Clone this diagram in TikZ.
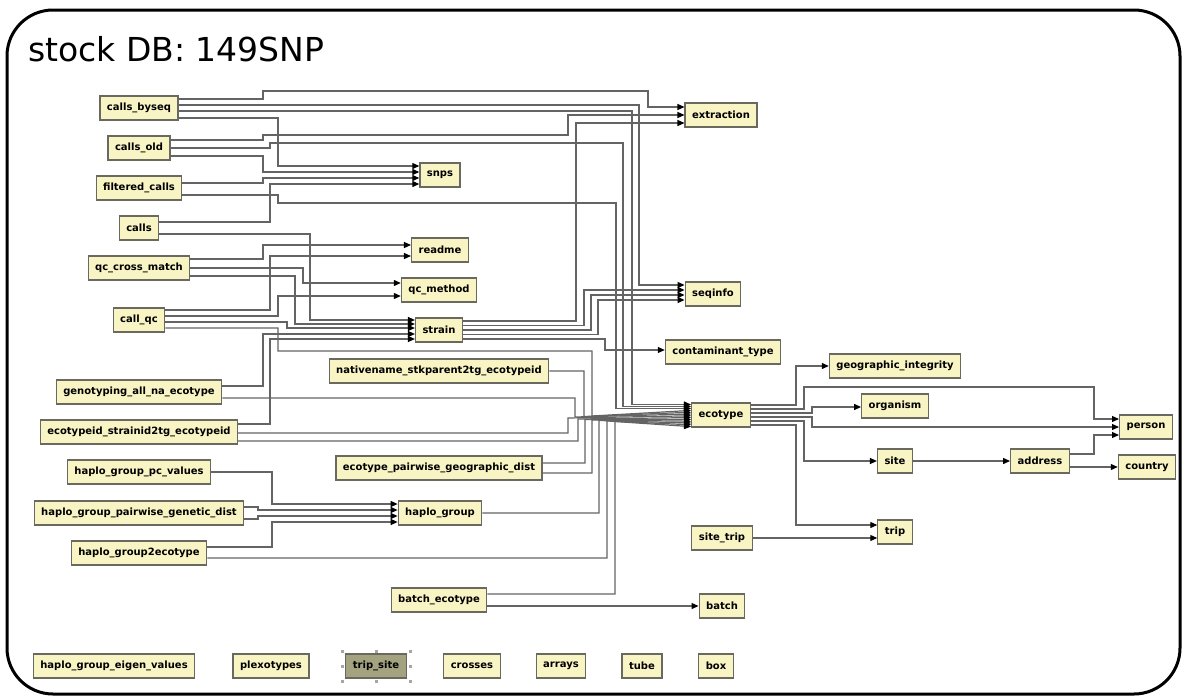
\documentclass[tikz,border=0pt]{standalone}
\usepackage{fontspec}
\setmainfont{DejaVu Sans}
\usetikzlibrary{arrows.meta,calc}
\definecolor{nodefill}{RGB}{248,244,196}
\definecolor{nodeline}{RGB}{105,105,95}
\definecolor{wirecol}{RGB}{100,100,100}
\definecolor{selfill}{RGB}{163,163,128}
\tikzset{
  tbl/.style={draw=nodeline, fill=nodefill, line width=1.2pt,
    font=\fontsize{10}{12}\selectfont\bfseries, inner xsep=7pt, inner ysep=0pt,
    minimum height=24pt},
  wire/.style={draw=wirecol, line width=1.2pt},
  arr/.style={wire, -{Triangle[length=7pt,width=6pt,color=black]}},
  handle/.style={fill=gray!70, draw=none, minimum size=3pt, inner sep=0pt}
}
\begin{document}
\begin{tikzpicture}[x=1pt,y=-1pt]
\useasboundingbox (0,0) rectangle (1184,697);
\draw[line width=3pt, rounded corners=46pt] (7,10) rectangle (1180,694);
\node[anchor=base west, inner sep=0pt, font=\fontsize{33}{40}\selectfont] (title) at (28,61) {stock DB: 149SNP};

% left column
\node[tbl] (callsbyseq) at (139,108) {calls\_byseq};
\node[tbl] (callsold) at (139,148) {calls\_old};
\node[tbl] (filteredcalls) at (139,188) {filtered\_calls};
\node[tbl] (calls) at (139,228) {calls};
\node[tbl] (qccrossmatch) at (139,268) {qc\_cross\_match};
\node[tbl] (callqc) at (139,320) {call\_qc};
\node[tbl] (genotyping) at (139,392) {genotyping\_all\_na\_ecotype};
\node[tbl] (ecostrain) at (139,432) {ecotypeid\_strainid2tg\_ecotypeid};
\node[tbl] (haplopc) at (139,472) {haplo\_group\_pc\_values};
\node[tbl] (haplopair) at (139,513) {haplo\_group\_pairwise\_genetic\_dist};
\node[tbl] (haplo2eco) at (139,553) {haplo\_group2ecotype};

% middle column
\node[tbl] (snps) at (440,175) {snps};
\node[tbl] (readme) at (440,250) {readme};
\node[tbl] (qcmethod) at (439,290) {qc\_method};
\node[tbl] (strain) at (439,330) {strain};
\node[tbl] (nativename) at (439,371) {nativename\_stkparent2tg\_ecotypeid};
\node[tbl] (ecopairwise) at (439,468) {ecotype\_pairwise\_geographic\_dist};
\node[tbl] (haplogroup) at (440,513) {haplo\_group};
\node[tbl] (batcheco) at (439,600) {batch\_ecotype};

% right column
\node[tbl] (extraction) at (721,115) {extraction};
\node[tbl] (seqinfo) at (713,294) {seqinfo};
\node[tbl] (contaminant) at (723,352) {contaminant\_type};
\node[tbl] (ecotype) at (721,415) {ecotype};
\node[tbl] (sitetrip) at (722,538) {site\_trip};
\node[tbl] (batch) at (722,606) {batch};

\node[tbl] (geoint) at (895,366) {geographic\_integrity};
\node[tbl] (organism) at (895,406) {organism};
\node[tbl] (site) at (895,461) {site};
\node[tbl] (trip) at (895,532) {trip};
\node[tbl] (address) at (1040,461) {address};
\node[tbl] (person) at (1146,427) {person};
\node[tbl] (country) at (1147,467) {country};

% bottom row
\node[tbl] (eigen) at (114,666) {haplo\_group\_eigen\_values};
\node[tbl] (plexotypes) at (271,666) {plexotypes};
\node[tbl, fill=selfill] (tripsite) at (376,666) {trip\_site};
\node[tbl] (crosses) at (472,666) {crosses};
\node[tbl] (arrays) at (561,666) {arrays};
\node[tbl] (tube) at (642,666) {tube};
\node[tbl] (box) at (716,666) {box};
\foreach \hx/\hy in {342/651,376/651,410/651,342/666,410/666,342/681,376/681,410/681}
  \node[handle] at (\hx,\hy) {};

% ---- top group
\draw[arr] (callsbyseq.east |- 0,99) -- (263,99) -- (263,91) -- (648,91) -- (648,107) -- (extraction.west |- 0,107);
\draw[arr] (callsbyseq.east |- 0,105) -- (639,105) -- (639,285) -- (seqinfo.west |- 0,285);
\draw[arr] (callsbyseq.east |- 0,111) -- (632,111) -- (632,404.5) -- (ecotype.west |- 0,404.5);
\draw[arr] (callsbyseq.east |- 0,118) -- (278,118) -- (278,166) -- (snps.west |- 0,166);
\draw[arr] (callsold.east |- 0,140) -- (263,140) -- (263,135) -- (568,135) -- (568,115) -- (extraction.west |- 0,115);
\draw[arr] (callsold.east |- 0,148) -- (270,148) -- (270,143) -- (623,143) -- (623,406.5) -- (ecotype.west |- 0,406.5);
\draw[arr] (callsold.east |- 0,156) -- (263,156) -- (263,172) -- (snps.west |- 0,172);
\draw[arr] (filteredcalls.east |- 0,183) -- (263,183) -- (263,178) -- (snps.west |- 0,178);
\draw[arr] (filteredcalls.east |- 0,195) -- (278,195) -- (278,203) -- (616,203) -- (616,408.5) -- (ecotype.west |- 0,408.5);
\draw[arr] (calls.east |- 0,222) -- (270,222) -- (270,184) -- (snps.west |- 0,184);
\draw[arr] (calls.east |- 0,234) -- (310,234) -- (310,320) -- (strain.west |- 0,320);

% ---- readme / qc_method / strain
\draw[arr] (qccrossmatch.east |- 0,259) -- (263,259) -- (263,245) -- (readme.west |- 0,245);
\draw[arr] (callqc.east |- 0,310) -- (270,310) -- (270,256) -- (readme.west |- 0,256);
\draw[arr] (qccrossmatch.east |- 0,268) -- (303,268) -- (303,283) -- (qcmethod.west |- 0,283);
\draw[arr] (callqc.east |- 0,316) -- (278,316) -- (278,296) -- (qcmethod.west |- 0,296);
\draw[arr] (qccrossmatch.east |- 0,276) -- (295,276) -- (295,324) -- (strain.west |- 0,324);
\draw[arr] (callqc.east |- 0,322) -- (287,322) -- (287,328) -- (strain.west |- 0,328);
\draw[arr] (genotyping.east |- 0,386) -- (263,386) -- (263,334) -- (strain.west |- 0,334);
\draw[arr] (ecostrain.east |- 0,424) -- (270,424) -- (270,339) -- (strain.west |- 0,339);

% ---- strain outputs
\draw[arr] (strain.east |- 0,321) -- (576,321) -- (576,123) -- (extraction.west |- 0,123);
\draw[arr] (strain.east |- 0,325.5) -- (584,325.5) -- (584,290) -- (seqinfo.west |- 0,290);
\draw[arr] (strain.east |- 0,330) -- (591,330) -- (591,295) -- (seqinfo.west |- 0,295);
\draw[arr] (strain.east |- 0,334.5) -- (598,334.5) -- (598,300) -- (seqinfo.west |- 0,300);
\draw[arr] (strain.east |- 0,339) -- (605,339) -- (605,350) -- (contaminant.west |- 0,350);

% ---- ecotype fan
\draw[arr] (callqc.east |- 0,328) -- (278,328) -- (278,351) -- (592,351) -- (592,416) -- (ecotype.west |- 0,410.4);
\draw[arr] (nativename.east |- 0,371) -- (584,371) -- (584,416.5) -- (ecotype.west |- 0,412.2);
\draw[arr] (genotyping.east |- 0,398) -- (575,398) -- (575,417) -- (ecotype.west |- 0,414);
\draw[arr] (ecostrain.east |- 0,433) -- (568,433) -- (568,418) -- (ecotype.west |- 0,415.8);
\draw[arr] (ecostrain.east |- 0,441) -- (578,441) -- (578,419) -- (ecotype.west |- 0,417.6);
\draw[arr] (ecopairwise.east |- 0,463) -- (585,463) -- (585,419.5) -- (ecotype.west |- 0,419.4);
\draw[arr] (ecopairwise.east |- 0,473) -- (592,473) -- (592,420) -- (ecotype.west |- 0,421.2);
\draw[arr] (haplogroup.east |- 0,513) -- (599,513) -- (599,420.5) -- (ecotype.west |- 0,423);
\draw[arr] (haplo2eco.east |- 0,558) -- (607,558) -- (607,421) -- (ecotype.west |- 0,424.8);
\draw[arr] (batcheco.east |- 0,594) -- (615,594) -- (615,421.5) -- (ecotype.west |- 0,426.6);

% ---- haplo_group inputs
\draw[arr] (haplopc.east |- 0,472) -- (272,472) -- (272,504) -- (haplogroup.west |- 0,504);
\draw[arr] (haplopair.east |- 0,507) -- (258,507) -- (258,510) -- (haplogroup.west |- 0,510);
\draw[arr] (haplopair.east |- 0,519) -- (258,519) -- (258,516) -- (haplogroup.west |- 0,516);
\draw[arr] (haplo2eco.east |- 0,547) -- (272,547) -- (272,522) -- (haplogroup.west |- 0,522);

% ---- ecotype outputs
\draw[arr] (ecotype.east |- 0,405) -- (796,405) -- (796,366) -- (geoint.west |- 0,366);
\draw[arr] (ecotype.east |- 0,409) -- (804,409) -- (804,387) -- (1094,387) -- (1094,419) -- (person.west |- 0,419);
\draw[arr] (ecotype.east |- 0,413) -- (812,413) -- (812,407) -- (organism.west |- 0,407);
\draw[arr] (ecotype.east |- 0,417) -- (812,417) -- (812,427) -- (person.west |- 0,427);
\draw[arr] (ecotype.east |- 0,421) -- (804,421) -- (804,461) -- (site.west |- 0,461);
\draw[arr] (ecotype.east |- 0,425) -- (796,425) -- (796,525) -- (trip.west |- 0,525);

% ---- others
\draw[arr] (site.east) -- (address.west);
\draw[arr] (address.east |- 0,454) -- (1094,454) -- (1094,435) -- (person.west |- 0,435);
\draw[arr] (address.east |- 0,467) -- (country.west |- 0,467);
\draw[arr] (sitetrip.east |- 0,538) -- (trip.west |- 0,538);
\draw[arr] (batcheco.east |- 0,606) -- (batch.west |- 0,606);
\end{tikzpicture}
\end{document}
